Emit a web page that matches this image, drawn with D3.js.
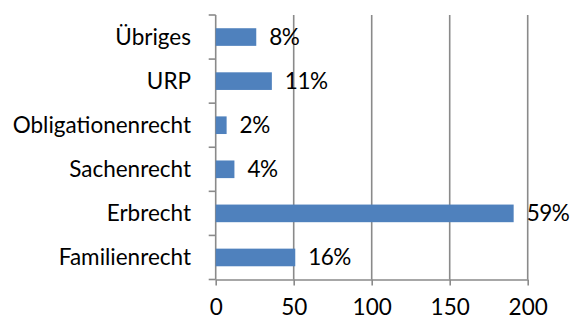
<!DOCTYPE html>
<html>
<head>
<meta charset="utf-8">
<script src="https://cdn.jsdelivr.net/npm/d3@7"></script>
<style>
  html, body { margin: 0; padding: 0; background: #fff; }
  svg { display: block; font-family: Lato, "Open Sans", sans-serif; }
</style>
</head>
<body>
<svg id="chart" width="571" height="320"></svg>
<script>
// Fälle nach Rechtsgebiet (von unten nach oben)
const categories = ["Familienrecht", "Erbrecht", "Sachenrecht", "Obligationenrecht", "URP", "Übriges"];
const counts = [51, 191, 12, 7, 36, 26];
const shares = ["16%", "59%", "4%", "2%", "11%", "8%"];
const xTicks = [0, 50, 100, 150, 200];

const svg = d3.select("#chart");
const plotLeft = 215.7, plotRight = 527.7, plotTop = 15, plotBottom = 279.5;
const fontSize = 22.5;

const x = d3.scaleLinear().domain([0, 200]).range([plotLeft, plotRight]);
// Reihenfolge umkehren, damit die erste Kategorie unten steht
const y = d3.scaleBand().domain(categories.slice().reverse()).range([plotTop, plotBottom]).paddingInner(0.6).paddingOuter(0.3);

const gridColor = "#8a8a8a";

// Vertikale Gitterlinien
svg.append("g")
  .selectAll("line")
  .data(xTicks.slice(1))
  .join("line")
  .attr("x1", d => x(d)).attr("x2", d => x(d))
  .attr("y1", plotTop).attr("y2", plotBottom)
  .attr("stroke", gridColor).attr("stroke-width", 1.6);

// x-Achse
const xAxis = svg.append("g")
  .attr("transform", `translate(0,${plotBottom})`)
  .call(d3.axisBottom(x).tickValues(xTicks).tickSize(6).tickPadding(14).tickSizeOuter(0));
xAxis.select(".domain").attr("stroke", gridColor).attr("stroke-width", 1.6);
xAxis.selectAll(".tick line").attr("stroke", gridColor).attr("stroke-width", 1.6);
xAxis.selectAll(".tick text").attr("font-size", fontSize).attr("fill", "#000")
  .attr("font-family", "Lato, 'Open Sans', sans-serif");

// y-Achse mit Teilstrichen an den Bandgrenzen
const bandEdges = d3.range(categories.length + 1).map(i => plotTop + i * (plotBottom - plotTop) / categories.length);
svg.append("line")
  .attr("x1", plotLeft).attr("x2", plotLeft).attr("y1", plotTop).attr("y2", plotBottom)
  .attr("stroke", gridColor).attr("stroke-width", 1.6);
svg.append("g")
  .selectAll("line")
  .data(bandEdges)
  .join("line")
  .attr("x1", plotLeft - 7).attr("x2", plotLeft)
  .attr("y1", d => d).attr("y2", d => d)
  .attr("stroke", gridColor).attr("stroke-width", 1.6);

// Kategorienbeschriftung
svg.append("g")
  .selectAll("text")
  .data(categories)
  .join("text")
  .attr("x", 191)
  .attr("y", d => y(d) + y.bandwidth() / 2)
  .attr("dy", "0.35em")
  .attr("text-anchor", "end")
  .attr("font-size", fontSize)
  .attr("fill", "#000")
  .text(d => d);

// Balken
svg.append("g")
  .selectAll("rect")
  .data(categories)
  .join("rect")
  .attr("x", x(0))
  .attr("y", (d) => y(d))
  .attr("width", (d, i) => x(counts[i]) - x(0))
  .attr("height", y.bandwidth())
  .attr("fill", "#4f81bd");

// Prozentangaben
svg.append("g")
  .selectAll("text")
  .data(categories)
  .join("text")
  .attr("x", (d, i) => x(counts[i]) + 13)
  .attr("y", d => y(d) + y.bandwidth() / 2)
  .attr("dy", "0.35em")
  .attr("font-size", fontSize)
  .attr("letter-spacing", -0.5)
  .attr("fill", "#000")
  .text((d, i) => shares[i]);
</script>
</body>
</html>
